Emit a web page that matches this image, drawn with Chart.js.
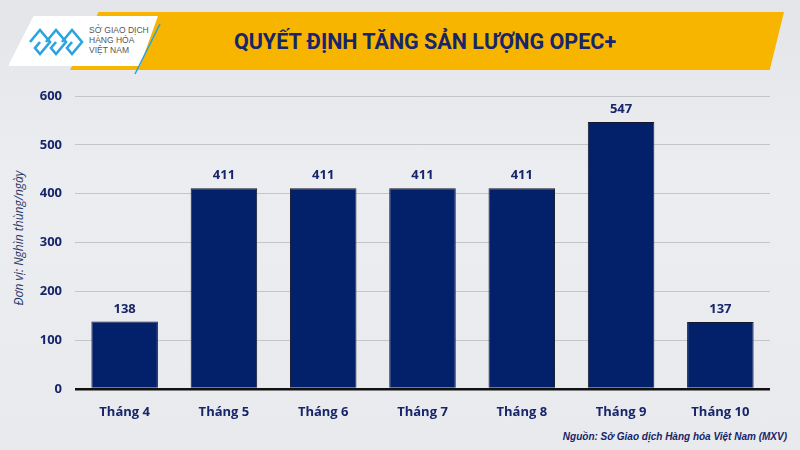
<!DOCTYPE html>
<html>
<head>
<meta charset="utf-8">
<script src="https://cdn.jsdelivr.net/npm/chart.js@4"></script>
<style>
  html, body { margin: 0; padding: 0; }
  body { width: 800px; height: 450px; overflow: hidden; position: relative;
         background: linear-gradient(180deg, #e4e5e8 0%, #ecedf0 40%, #e9eaed 100%);
         font-family: "Open Sans", sans-serif; }
  #banner { position: absolute; left: 70px; top: 12px; width: 714px; height: 58px;
            background: #f7b500; clip-path: polygon(4% 0, 100% 0, 98% 100%, 0 100%); }
  #title { position: absolute; left: 165px; top: 13px; width: 520px; height: 58px;
           text-align: center; color: #17256a;
           font: bold 21.5px "Roboto", sans-serif; line-height: 58px; }
  #logo { position: absolute; left: 8px; top: 16px; width: 150px; height: 50px;
          background: #fff; clip-path: polygon(17% 0, 100% 0, 88% 100%, 0 100%);
          box-shadow: 0 2px 4px rgba(0,0,0,0.3); }
  #logotext { position: absolute; left: 89px; top: 25px; color: #555;
              font: 8.5px/10px "Liberation Sans Narrow", "Liberation Sans", sans-serif; }
  #ytitle { position: absolute; left: 18px; top: 238px; transform: translate(-50%, -50%) rotate(-90deg);
            white-space: nowrap; color: #2b3a6b; font: italic 12px "Open Sans", sans-serif; }
  #source { position: absolute; right: 13px; top: 431px; color: #17256a;
            font: italic bold 10px "Liberation Sans", sans-serif; }
  #chartwrap { position: absolute; left: 0; top: 0; width: 800px; height: 450px; }
</style>
</head>
<body>
<div id="banner"></div>
<div id="title">QUYẾT ĐỊNH TĂNG SẢN LƯỢNG OPEC+</div>
<div id="logo"></div>
<svg style="position:absolute;left:28px;top:26px" width="58" height="32" viewBox="0 0 58 32">
  <g fill="none" stroke="#2aa5df" stroke-width="2.6">
    <polyline points="2,16 12,4 22,16 12,28 7,22 12,16"/>
    <polyline points="18,16 28,4 38,16 28,28 23,22 28,16"/>
    <polyline points="34,16 44,4 54,16 44,28 39,22 44,16"/>
  </g>
</svg>
<div id="logotext">SỞ GIAO DỊCH<br>HÀNG HÓA<br>VIỆT NAM</div>
<svg style="position:absolute;left:130px;top:22px" width="35" height="54">
  <line x1="30" y1="2" x2="5" y2="52" stroke="#2aa5df" stroke-width="1.5"/>
</svg>
<div id="ytitle">Đơn vị: Nghìn thùng/ngày</div>
<div id="source">Nguồn: Sở Giao dịch Hàng hóa Việt Nam (MXV)</div>
<div id="chartwrap"><canvas id="chart" width="800" height="450"></canvas></div>
<script>
const months = ['Tháng 4', 'Tháng 5', 'Tháng 6', 'Tháng 7', 'Tháng 8', 'Tháng 9', 'Tháng 10'];
const increase = [138, 411, 411, 411, 411, 547, 137];
const yTicks = [0, 100, 200, 300, 400, 500, 600];

const navy = '#17256a';

const valueLabels = {
  id: 'valueLabels',
  afterDatasetsDraw(chart) {
    const { ctx } = chart;
    const meta = chart.getDatasetMeta(0);
    ctx.save();
    ctx.fillStyle = navy;
    ctx.font = 'bold 13px "Open Sans", sans-serif';
    ctx.textAlign = 'center';
    ctx.textBaseline = 'bottom';
    meta.data.forEach((bar, i) => {
      ctx.fillText(increase[i], bar.x, bar.y - 6);
    });
    ctx.restore();
  }
};

new Chart(document.getElementById('chart'), {
  type: 'bar',
  data: {
    labels: months,
    datasets: [{
      data: increase,
      backgroundColor: '#03216a',
      borderColor: '#15182a',
      borderWidth: 1,
      barPercentage: 0.67,
      categoryPercentage: 1
    }]
  },
  options: {
    responsive: false,
    animation: false,
    layout: { padding: { left: 0, right: 30, top: 96, bottom: 0 } },
    plugins: { legend: { display: false }, tooltip: { enabled: false } },
    scales: {
      x: {
        afterFit(s) { s.height = 61; },
        grid: { display: false },
        border: { display: false },
        ticks: { color: navy, font: { family: 'Open Sans', size: 13, weight: 'bold' }, padding: 7 }
      },
      y: {
        min: 0, max: 600,
        afterFit(s) { s.width = 75; },
        afterBuildTicks(s) { s.ticks = yTicks.map(v => ({ value: v })); },
        grid: {
          drawTicks: false,
          color: c => c.tick && c.tick.value === 0 ? '#111111' : '#c4c5c8',
          lineWidth: c => c.tick && c.tick.value === 0 ? 2.5 : 1
        },
        border: { display: false },
        ticks: { color: navy, font: { family: 'Open Sans', size: 13, weight: 'bold' }, padding: 13 }
      }
    }
  },
  plugins: [valueLabels]
});
</script>
</body>
</html>
